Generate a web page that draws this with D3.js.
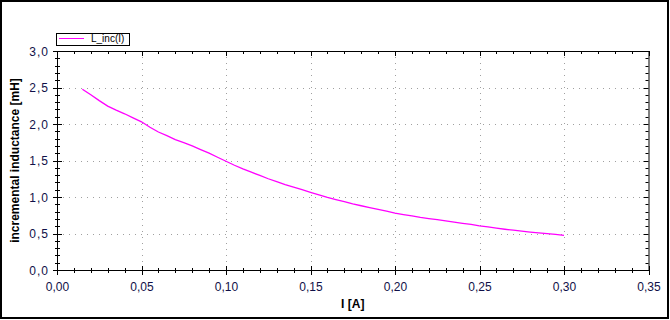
<!DOCTYPE html>
<html>
<head>
<meta charset="utf-8">
<script src="https://cdn.jsdelivr.net/npm/d3@7"></script>
<style>
  body { margin: 0; background: #fff; }
  svg { display: block; font-family: "Liberation Sans", Arial, sans-serif; }
</style>
</head>
<body>
<svg id="chart" width="670" height="320"></svg>
<script>
// current I [A]
const current = [0.015, 0.02, 0.025, 0.03, 0.035, 0.04, 0.045, 0.05, 0.055, 0.06,
  0.065, 0.07, 0.075, 0.08, 0.085, 0.09, 0.095, 0.10, 0.105, 0.11,
  0.115, 0.12, 0.125, 0.13, 0.135, 0.14, 0.145, 0.15, 0.155, 0.16,
  0.165, 0.17, 0.175, 0.18, 0.185, 0.19, 0.195, 0.20, 0.205, 0.21,
  0.215, 0.22, 0.225, 0.23, 0.235, 0.24, 0.245, 0.25, 0.255, 0.26,
  0.265, 0.27, 0.275, 0.28, 0.285, 0.29, 0.295, 0.30];
// incremental inductance [mH]
const inductance = [2.475, 2.40, 2.32, 2.245, 2.19, 2.14, 2.085, 2.03, 1.955, 1.89,
  1.84, 1.785, 1.745, 1.70, 1.65, 1.60, 1.545, 1.49, 1.435, 1.385,
  1.34, 1.295, 1.25, 1.21, 1.17, 1.135, 1.10, 1.065, 1.03, 0.995,
  0.965, 0.935, 0.905, 0.88, 0.856, 0.83, 0.805, 0.78, 0.76, 0.74,
  0.72, 0.705, 0.69, 0.672, 0.655, 0.64, 0.625, 0.605, 0.59, 0.573,
  0.558, 0.545, 0.532, 0.52, 0.508, 0.498, 0.488, 0.475];
const xTicks = [0, 0.05, 0.10, 0.15, 0.20, 0.25, 0.30, 0.35];
const yTicks = [0, 0.5, 1.0, 1.5, 2.0, 2.5, 3.0];
const seriesName = "L_inc(I)";

const svg = d3.select("#chart");
const pLeft = 57, pRight = 648.5, pTop = 51, pBottom = 270;
const x = d3.scaleLinear().domain([0, 0.35]).range([pLeft, pRight]);
const y = d3.scaleLinear().domain([0, 3]).range([pBottom, pTop]);
const fmtX = v => d3.format(".2f")(v).replace(".", ",");
const fmtY = v => d3.format(".1f")(v).replace(".", ",");
const labelColor = "#101048";

// outer frame
svg.append("rect").attr("x", 1).attr("y", 1).attr("width", 667).attr("height", 317)
  .attr("fill", "none").attr("stroke", "#000").attr("stroke-width", 2);

// grid
const grid = svg.append("g").attr("stroke", "#a0a0a0").attr("stroke-dasharray", "1,5");
grid.selectAll(".vg").data(xTicks.slice(1, -1)).enter().append("line")
  .attr("x1", d => Math.round(x(d)) + 0.5).attr("x2", d => Math.round(x(d)) + 0.5)
  .attr("y1", pTop).attr("y2", pBottom);
grid.selectAll(".hg").data(yTicks.slice(1, -1)).enter().append("line")
  .attr("y1", d => Math.round(y(d)) + 0.5).attr("y2", d => Math.round(y(d)) + 0.5)
  .attr("x1", pLeft).attr("x2", pRight);

// minor tick positions
const xMinor = d3.range(0, 36).map(i => i * 0.01);
const yMinor = d3.range(0, 31).map(i => i * 0.1);

const ax = svg.append("g").attr("stroke", "#000").attr("stroke-width", 1);
// bottom axis
ax.append("line").attr("x1", pLeft).attr("x2", pRight + 1).attr("y1", pBottom + 0.5).attr("y2", pBottom + 0.5);
ax.selectAll(".bt").data(xMinor).enter().append("line")
  .attr("x1", d => Math.round(x(d)) + 0.5).attr("x2", d => Math.round(x(d)) + 0.5)
  .attr("y1", (d, i) => i % 5 === 0 ? pBottom - 4 : pBottom - 2)
  .attr("y2", (d, i) => i % 5 === 0 ? pBottom + 5 : pBottom + 3);
// top axis
ax.append("line").attr("x1", pLeft).attr("x2", pRight + 1).attr("y1", pTop + 0.5).attr("y2", pTop + 0.5);
ax.selectAll(".tt").data(xMinor).enter().append("line")
  .attr("x1", d => Math.round(x(d)) + 0.5).attr("x2", d => Math.round(x(d)) + 0.5)
  .attr("y1", pTop).attr("y2", (d, i) => i % 5 === 0 ? pTop + 5 : pTop + 3);
// left axis
ax.append("line").attr("x1", pLeft + 0.5).attr("x2", pLeft + 0.5).attr("y1", pTop).attr("y2", pBottom + 1);
ax.selectAll(".lt").data(yMinor).enter().append("line")
  .attr("y1", d => Math.round(y(d)) + 0.5).attr("y2", d => Math.round(y(d)) + 0.5)
  .attr("x1", (d, i) => i % 5 === 0 ? pLeft - 4 : pLeft - 2)
  .attr("x2", (d, i) => i % 5 === 0 ? pLeft + 5 : pLeft + 3);
// right axis
ax.append("line").attr("x1", pRight + 0.5).attr("x2", pRight + 0.5).attr("y1", pTop).attr("y2", pBottom + 1);
ax.selectAll(".rt").data(yMinor).enter().append("line")
  .attr("y1", d => Math.round(y(d)) + 0.5).attr("y2", d => Math.round(y(d)) + 0.5)
  .attr("x1", (d, i) => i % 5 === 0 ? pRight - 5 : pRight - 3).attr("x2", pRight);

// tick labels
svg.selectAll(".xl").data(xTicks).enter().append("text")
  .attr("x", d => x(d) + 0.5).attr("y", 291).attr("text-anchor", "middle")
  .attr("font-size", 12).attr("fill", labelColor).text(fmtX);
svg.selectAll(".yl").data(yTicks).enter().append("text")
  .attr("x", 49).attr("y", d => y(d) + 4.5).attr("text-anchor", "end")
  .attr("font-size", 12).attr("letter-spacing", 1).attr("fill", labelColor).text(fmtY);

// axis titles
svg.append("text").attr("x", (pLeft + pRight) / 2).attr("y", 308).attr("text-anchor", "middle")
  .attr("font-size", 12).attr("font-weight", "bold").text("I [A]");
svg.append("text").attr("transform", "translate(19," + ((pTop + pBottom) / 2) + ") rotate(-90)")
  .attr("text-anchor", "middle").attr("font-size", 12).attr("font-weight", "bold")
  .text("incremental inductance [mH]");

// series line
const pts = current.map((c, i) => [c, inductance[i]]);
svg.append("path").datum(pts)
  .attr("fill", "none").attr("stroke", "#ff00ff").attr("stroke-width", 1.3)
  .attr("d", d3.line().x(d => x(d[0])).y(d => y(d[1])));

// legend
const lg = svg.append("g");
lg.append("rect").attr("x", 56.5).attr("y", 33.5).attr("width", 73).attr("height", 12)
  .attr("fill", "#fff").attr("stroke", "#000");
lg.append("line").attr("x1", 59).attr("x2", 84).attr("y1", 38.5).attr("y2", 38.5)
  .attr("stroke", "#ff00ff").attr("stroke-width", 1);
lg.append("text").attr("x", 91).attr("y", 42).attr("font-size", 10).attr("fill", "#000").text(seriesName);
</script>
</body>
</html>
